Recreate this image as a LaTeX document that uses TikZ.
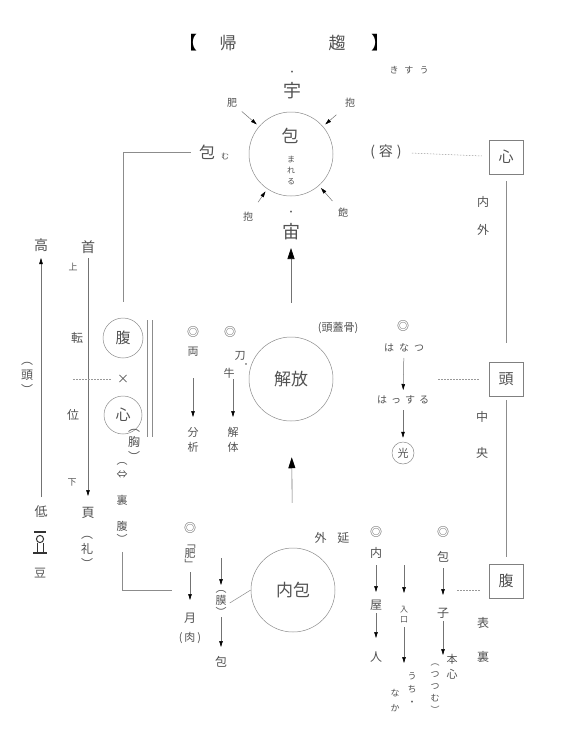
\documentclass[tikz,border=0pt]{standalone}
\usepackage{fontspec}
\newfontfamily\jp{Noto Sans CJK JP}
\usetikzlibrary{arrows.meta}
\begin{document}
\begin{tikzpicture}[x=1pt,y=-1pt,
 t/.style={font=\jp\fontsize{#1}{#1}\selectfont, text=black!68, inner sep=0pt, align=center},
 ln/.style={draw=black!45, line width=0.5pt},
 dl/.style={draw=black!40, line width=0.5pt, dash pattern=on 1.5pt off 1.5pt},
 arr/.style={draw=black!55, line width=0.5pt, -{Triangle[length=6pt,width=3.5pt,color=black]}},
 bigarr/.style={draw=black!55, line width=0.6pt, -{Triangle[length=11pt,width=7pt,color=black]}},
 cir/.style={draw=black!45, line width=0.5pt, circle, inner sep=0pt, minimum size=#1},
 bx/.style={draw=black!50, line width=0.5pt, minimum size=34pt, inner sep=0pt},
 dm/.style={font=\jp\fontsize{12}{12}\selectfont, text=black!70, inner sep=0pt}]
\useasboundingbox[fill=white] (0,0) rectangle (570,744);

% title
\node[t=18, text=black] (lb) at (188,43) {【};
\node[t=17] (ki) at (228,43) {帰};
\node[t=17] (sui) at (337,43) {趨};
\node[t=18, text=black] (rb) at (380,43) {】};
\node[t=9] (kisuu) at (409,70) {き\hspace{6pt}す\hspace{6pt}う};

% top circle
\node[cir=84pt] (topc) at (291,154) {};
\node[t=17] (hou) at (290,136) {包};
\node[t=8, font=\jp\fontsize{8}{11}\selectfont] (mareru) at (291,170) {ま\\れ\\る};
\node[t=9] (dot1) at (292,73) {・};
\node[t=18] (u) at (292,91) {宇};
\node[t=9] (dot2) at (291,213) {・};
\node[t=18] (chu) at (291,232) {宙};
\node[t=10] (fei) at (232,103) {肥};
\node[t=10] (hou1) at (350,103) {抱};
\node[t=10] (hou2) at (248,217) {抱};
\node[t=10] (hou3) at (343,213) {飽};
\draw[arr, shorten <=13pt, shorten >=3pt] (fei.center) -- (topc);
\draw[arr, shorten <=18pt, shorten >=3pt] (hou1.center) -- (topc);
\draw[arr, shorten <=18pt, shorten >=3pt] (hou2.center) -- (topc);
\draw[arr, shorten <=16pt, shorten >=3pt] (hou3.center) -- (topc);

% left of top circle
\node[t=16] (houmu) at (207,152) {包};
\node[t=8] (mu) at (225,156) {む};
\node[t=14] (you) at (386,152) {(\hspace{4pt}容\hspace{4pt})};

% right column
\node[bx, t=15] (kb) at (506,157) {心};
\node[bx, t=15] (tb) at (506,379) {頭};
\node[bx, t=15] (hb) at (506,581) {腹};
\draw[dl, shorten <=10pt, shorten >=7pt] (you) -- (kb);
\draw[ln, shorten <=7pt, shorten >=19pt] (kb) -- (tb);
\draw[ln, shorten <=4pt, shorten >=7pt] (tb) -- (hb);
\node[t=12] (nai) at (483,202) {内};
\node[t=12] (gai) at (483,230) {外};
\node[t=12] (naka) at (482,417) {中};
\node[t=12] (ou) at (482,453) {央};
\node[t=12] (omo) at (483,623) {表};
\node[t=12] (ura) at (483,657) {裏};
\coordinate (td) at (438,379);
\draw[dl, shorten >=9pt] (td) -- (tb);
\coordinate (hd) at (457,590);
\draw[dl] (hd) -- ([xshift=-8pt]hd -| hb.west);

% far left
\node[t=14] (taka) at (41,245) {高};
\node[t=13] (tei) at (41,512) {低};
\draw[arr, shorten <=15pt, shorten >=13pt] (tei.center) -- (taka.center);
\node[t=12, font=\jp\fontsize{12}{15}\selectfont] (atama) at (27,378) {︵\\頭\\︶};
\draw[black!80, line width=1.3pt] (34,532) -- (46,532);
\draw[black!80, line width=1pt] (40,539) circle (3.6);
\draw[black!80, line width=1pt] (37,543) -- (37,552) (43,543) -- (43,552);
\draw[black!80, line width=1.3pt] (33,553) -- (47,553);
\node[t=12] (mame) at (40,573) {豆};

\node[t=14] (kubi) at (88,247) {首};
\node[t=13] (pe) at (88,513) {頁};
\draw[arr, shorten <=11pt, shorten >=17pt] (kubi.center) -- (pe.center);
\node[t=9] (ue) at (73,267) {上};
\node[t=12] (ten) at (77,338) {転};
\node[t=12] (i) at (73,415) {位};
\node[t=9] (shita) at (72,482) {下};
\node[t=12, font=\jp\fontsize{12}{15}\selectfont] (rei) at (87,552) {︵\\礼\\︶};

\node[cir=40pt, t=15] (hara) at (123,338) {腹};
\node[cir=38pt, t=15] (kokoro) at (123,415) {心};
\node[t=12] (x) at (123,379) {×};
\coordinate (xd) at (73,379);
\draw[dl, shorten >=5pt] (xd) -- (x);
\draw[ln] (147,320) -- (147,437);
\draw[ln] (152,320) -- (152,437);
\node[t=12, font=\jp\fontsize{12}{15}\selectfont] (mune) at (134,445) {︵\\胸\\︶};
\node[t=11] (ub1) at (122,464) {︵};
\node[t=11] (ub2) at (122,475) {⇔};
\node[t=11] (ub3) at (122,500) {裏};
\node[t=11] (ub4) at (122,526) {腹};
\node[t=11] (ub5) at (122,539) {︶};
\draw[ln] ([xshift=-8pt]houmu.west) -| ([yshift=16pt]hara.north);
\coordinate (bk) at (172,590);
\draw[ln] ([yshift=-8pt]ub5.south) |- (bk);

% middle
\node[cir=84pt, t=17] (kaiho) at (291,379) {解放};
\draw[bigarr, shorten <=34pt, shorten >=16pt] (kaiho) -- (chu.center);
\node[t=11] (zugai) at (338,328) {(頭蓋骨)};
\node[dm] (m1) at (193,332) {◎};
\node[t=11] (ryo) at (193,352) {両};
\node[t=11, font=\jp\fontsize{11}{15}\selectfont] (bunseki) at (193,439.5) {分\\析};
\draw[arr, shorten <=26pt, shorten >=22.5pt] (ryo.center) -- (bunseki.center);
\node[dm] (m2) at (230,332) {◎};
\node[t=11] (katana) at (240,356) {刀};
\node[t=8] (dot3) at (246,366) {・};
\node[t=11] (gyu) at (229,373) {牛};
\node[t=11, font=\jp\fontsize{11}{15}\selectfont] (kaitai) at (233,439.5) {解\\体};
\draw[arr, shorten <=1pt, shorten >=22.5pt] ([xshift=4pt]gyu.south) -- (kaitai.center);
\node[dm] (m3) at (403,326) {◎};
\node[t=10] (hanatsu) at (404,348) {は\hspace{5pt}な\hspace{5pt}つ};
\node[t=10] (hassuru) at (403,400) {は\hspace{4pt}っ\hspace{4pt}す\hspace{4pt}る};
\node[cir=22pt, t=11] (hikari) at (403,453) {光};
\draw[arr, shorten <=10pt, shorten >=10pt] (hanatsu.center) -- (hassuru.center);
\draw[arr, shorten <=10pt, shorten >=4pt] (hassuru.center) -- (hikari);

% bottom
\node[cir=84pt, t=17] (naiho) at (293,590) {内包};
\draw[bigarr, shorten <=45pt, shorten >=36pt] (naiho) -- (kaiho);
\node[t=12] (gaien) at (332,538) {外\hspace{11pt}延};
\node[dm] (m4) at (190,528) {◎};
\node[t=11, font=\jp\fontsize{11}{10}\selectfont] (hi) at (190,557) {﹁\\肥\\﹂};
\node[t=12] (tsuki) at (190,618) {月};
\node[t=11] (niku) at (190,638) {(\hspace{2pt}肉\hspace{2pt})};
\draw[arr, shorten <=15pt, shorten >=18pt] (hi.center) -- (tsuki.center);
\coordinate (mk) at (221,558);
\node[t=11, font=\jp\fontsize{11}{12}\selectfont] (maku) at (221,603) {︵\\膜\\︶};
\draw[arr, shorten >=18pt] (mk) -- (maku.center);
\draw[ln] ([xshift=3pt]maku.east) -- (naiho.west);
\node[t=12] (tsutsumi) at (221,662) {包};
\draw[arr, shorten <=14pt, shorten >=15pt] (maku.center) -- (tsutsumi.center);

\node[dm] (m5) at (376,532) {◎};
\node[t=12] (uchi) at (376,553) {内};
\node[t=12] (ya) at (376,605) {屋};
\node[t=12] (hito) at (376,657) {人};
\draw[arr, shorten <=12pt, shorten >=13pt] (uchi.center) -- (ya.center);
\draw[arr, shorten <=8pt, shorten >=19pt] (ya.center) -- (hito.center);
\coordinate (ir0) at (404,565);
\node[t=8, font=\jp\fontsize{8}{10}\selectfont] (iri) at (404,615) {入\\口};
\coordinate (ir1) at (404,663);
\draw[arr, shorten >=22pt] (ir0) -- (iri.center);
\draw[arr, shorten <=12pt] (iri.center) -- (ir1);
\node[t=9, font=\jp\fontsize{9}{13}\selectfont] (uchi2) at (412,689) {う\\ち\\・};
\node[t=9, font=\jp\fontsize{9}{15}\selectfont] (naka2) at (395,701) {な\\か};

\node[dm] (m6) at (443,532) {◎};
\node[t=12] (hou4) at (443,557) {包};
\node[t=12] (ko) at (443,613) {子};
\draw[arr, shorten <=11pt, shorten >=18pt] (hou4.center) -- (ko.center);
\coordinate (k1) at (443,655);
\draw[arr, shorten <=8pt] (ko.center) -- (k1);
\node[t=11, font=\jp\fontsize{11}{15}\selectfont] (honshin) at (452,667) {本\\心};
\node[t=9, font=\jp\fontsize{9}{12}\selectfont] (tsutsumu) at (435,689) {︵\\つ\\つ\\む\\︶};
\end{tikzpicture}
\end{document}
